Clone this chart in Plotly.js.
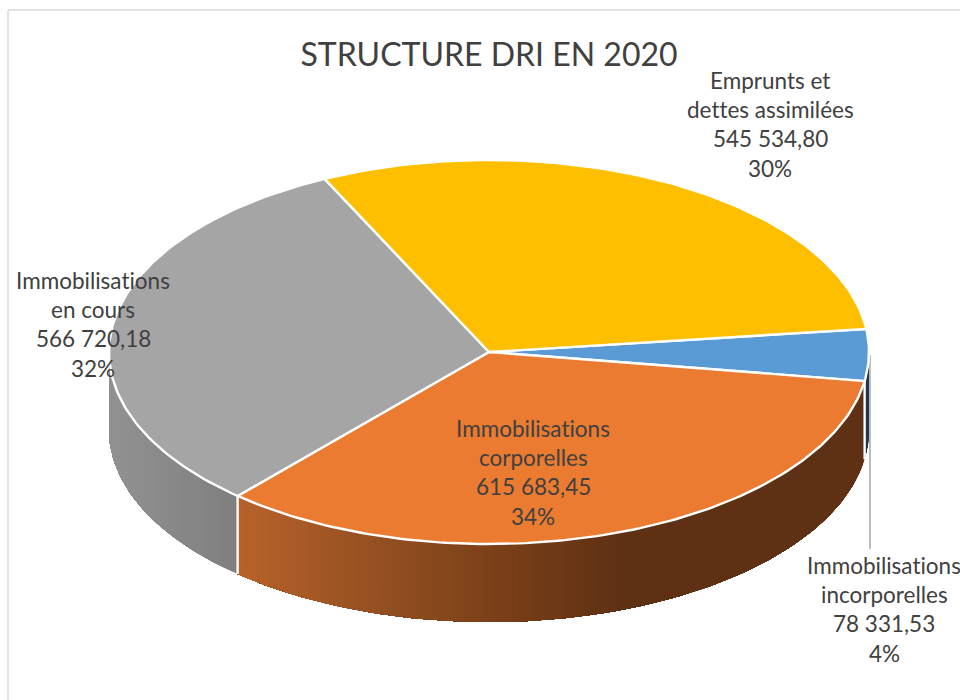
<!DOCTYPE html>
<html>
<head>
<meta charset="utf-8">
<script src="https://cdn.plot.ly/plotly-3.0.1.min.js"></script>
<style>html,body{margin:0;padding:0;background:#fff}#c{width:960px;height:700px}svg text{font-variant-ligatures:none;font-feature-settings:"liga" 0,"clig" 0}</style>
</head>
<body>
<div id="c"></div>
<script>
// Data
const categories = ["Immobilisations incorporelles", "Immobilisations corporelles", "Immobilisations en cours", "Emprunts et dettes assimilées"];
const values = [78331.53, 615683.45, 566720.18, 545534.80];
const valueLabels = ["78 331,53", "615 683,45", "566 720,18", "545 534,80"];
const percentLabels = ["4%", "34%", "32%", "30%"];
const labelLines = [
  ["Immobilisations", "incorporelles"],
  ["Immobilisations", "corporelles"],
  ["Immobilisations", "en cours"],
  ["Emprunts et", "dettes assimilées"]
];
const topColors = ["#5b9bd5", "#ea7b30", "#a5a5a5", "#fdbf00"];
const chartTitle = "STRUCTURE DRI EN 2020";

// Layout of the tilted disc, in axis units (the axes span the page)
const cx = 489, cy = 352, rx = 380, ry = 192, depth = 78, startDeg = -6.9;
const labelAnchors = [[884, 565], [533, 428], [93, 280], [770, 80]];
const lineStep = 29.4;
const font = "Lato, Carlito, sans-serif", textColor = "#404040";

const wallStops = [
  [[0, "#1c3a58"], [960, "#1c3a58"]],
  [[237, "#b8622a"], [400, "#8f4d20"], [500, "#7a3f18"], [620, "#5f3114"], [960, "#5f3114"]],
  [[108, "#929292"], [237, "#7f7f7f"]],
  [[0, "#000000"], [960, "#000000"]]
];

const total = values.reduce((a, b) => a + b, 0);
const rad = d => d * Math.PI / 180;
const px = d => cx + rx * Math.cos(rad(d));
const py = d => cy + ry * Math.sin(rad(d));
const hex = c => [1, 3, 5].map(i => parseInt(c.slice(i, i + 2), 16));
function colorAt(stops, x) {
  if (x <= stops[0][0]) return stops[0][1];
  for (let i = 1; i < stops.length; i++) {
    if (x <= stops[i][0]) {
      const f = (x - stops[i - 1][0]) / (stops[i][0] - stops[i - 1][0]);
      const a = hex(stops[i - 1][1]);
      const b = hex(stops[i][1]);
      return "rgb(" + a.map((v, k) => Math.round(v + (b[k] - v) * f)).join(",") + ")";
    }
  }
  return stops[stops.length - 1][1];
}

// Angular extent of each slice, derived from the values
let acc = startDeg;
const spans = values.map(v => { const s = acc; acc += v / total * 360; return [s, acc]; });

const traces = [];
const base = {type: "scatter", mode: "lines", hoverinfo: "skip", showlegend: false};

// Side wall: each band runs to the slice's far end and the next one paints over it, leaving no seams
spans.forEach((sp, i) => {
  const a = Math.max(sp[0], 0), b = Math.min(sp[1], 180);
  if (b <= a) return;
  const n = Math.ceil(b - a);
  for (let k = 0; k < n; k++) {
    const tm = a + (b - a) * (k + 0.5) / n;
    const col = colorAt(wallStops[i], px(tm));
    const xs = [], ys = [], xb = [], yb = [];
    for (let j = k; j <= n; j++) {
      const t = a + (b - a) * j / n;
      xs.push(px(t)); ys.push(py(t));
      xb.unshift(px(t)); yb.unshift(py(t) + depth);
    }
    traces.push(Object.assign({}, base, {
      x: xs.concat(xb, [xs[0]]), y: ys.concat(yb, [ys[0]]),
      fill: "toself", fillcolor: col, line: {color: col, width: 0}
    }));
  }
});

// White edge between walls
spans.forEach(sp => {
  const t = sp[1];
  if (t > 0 && t < 180) traces.push(Object.assign({}, base, {
    x: [px(t), px(t)], y: [py(t), py(t) + depth], line: {color: "#ffffff", width: 2.4}
  }));
});

// Leader line of the small slice
const midBlue = (spans[0][0] + spans[0][1]) / 2;
traces.push(Object.assign({}, base, {
  x: [px(midBlue) + 1, px(midBlue) + 1], y: [py(midBlue), labelAnchors[0][1] - 16],
  line: {color: "#a6a6a6", width: 1.5}
}));

// Top face
spans.forEach((sp, i) => {
  const xs = [cx], ys = [cy];
  const n = Math.ceil(sp[1] - sp[0]);
  for (let k = 0; k <= n; k++) {
    const t = sp[0] + (sp[1] - sp[0]) * k / n;
    xs.push(px(t)); ys.push(py(t));
  }
  xs.push(cx); ys.push(cy);
  traces.push(Object.assign({}, base, {
    x: xs, y: ys, fill: "toself", fillcolor: topColors[i],
    line: {color: "#ffffff", width: 2.4}, name: categories[i]
  }));
});

// Text labels
const annotations = [];
categories.forEach((c, i) => {
  const lines = labelLines[i].concat([valueLabels[i], percentLabels[i]]);
  lines.forEach((t, k) => annotations.push({
    x: labelAnchors[i][0], y: labelAnchors[i][1] + k * lineStep,
    xref: "x", yref: "y", text: t, showarrow: false,
    xanchor: "center", yanchor: "middle",
    font: {family: font, size: 22.5, color: textColor}
  }));
});

const layout = {
  width: 960, height: 700,
  margin: {l: 0, r: 0, t: 0, b: 0},
  paper_bgcolor: "#ffffff", plot_bgcolor: "#ffffff",
  showlegend: false,
  title: {text: chartTitle, x: 489 / 960, xanchor: "center", y: 1 - 55 / 700, yanchor: "middle",
          font: {family: font, size: 32, color: textColor}},
  xaxis: {range: [0, 960], visible: false, fixedrange: true},
  yaxis: {range: [700, 0], visible: false, fixedrange: true},
  annotations: annotations,
  shapes: [
    {type: "line", xref: "x", yref: "y", x0: 8, x1: 960, y0: 10, y1: 10, line: {color: "#d9d9d9", width: 1.5}},
    {type: "line", xref: "x", yref: "y", x0: 8, x1: 8, y0: 10, y1: 700, line: {color: "#d9d9d9", width: 1.5}}
  ]
};
Plotly.newPlot("c", traces, layout, {displayModeBar: false, staticPlot: true});
</script>
</body>
</html>
